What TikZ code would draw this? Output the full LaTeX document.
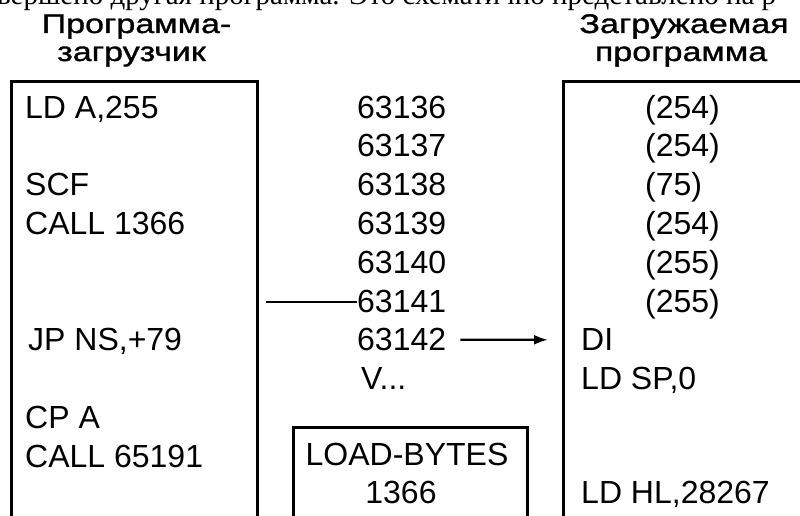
\documentclass[tikz,border=0pt]{standalone}
\usepackage{fontspec}
\setmainfont{Liberation Sans}
\newfontfamily\headfont[FakeStretch=1.26, FakeBold=1.2]{Liberation Sans}
\newfontfamily\pagefont{Liberation Serif}
\usetikzlibrary{arrows.meta, positioning}
\tikzset{%
   % listing lines: anchored on their baseline so rows line up
   code/.style={
      font=\fontsize{32}{38}\selectfont,
      inner sep=0pt,
      anchor=base west
   },
   head/.style={
      font=\headfont\fontsize{27}{30}\selectfont,
      inner sep=0pt,
      anchor=base
   },
   frame/.style={
      line width=3pt
   },
   wire/.style={
      line width=2.4pt
   },
}
\begin{document}
\begin{tikzpicture}[x=1pt, y=-1pt]
\useasboundingbox (0,0) rectangle (800,516);
\clip (0,0) rectangle (800,516);
% tail of the page text above the figure
\node[anchor=base west, inner sep=0pt, font=\pagefont\fontsize{29}{30}\selectfont]
   (pagetext) at (-3,5) {вершено другая программа. Это схематично представлено на р};
% headings
\node[head] (lhead) at (136.5,33) {Программа-};
\node[head] (lhead2) at (131.5,61) {загрузчик};
\node[head] (rhead) at (684,33) {Загружаемая};
\node[head] (rhead2) at (681,61) {программа};
% frames, cut off by the lower edge
\draw[frame] (11,520) |- (257,82) -- (257,520);
\draw[frame] (563,520) |- (806,82);
\draw[frame] (293,520) |- (527,427) -- (527,520);
% loader
\node[code] (l0) at (25,118) {LD A,255};
\node[code] (l2) at (25,195.6) {SCF};
\node[code] (l3) at (25,234.4) {CALL 1366};
\node[code] (l6) at (28,350.8) {JP NS,+79};
\node[code] (l8) at (25,428.4) {CP A};
\node[code] (l9) at (25,467.2) {CALL 65191};
% addresses
\foreach \addr [count=\k from 0] in {63136,63137,63138,63139,63140,63141,63142}
   \node[code] (a\k) at (357,{118+38.8*\k}) {\addr};
\node[code] (a7) at (361,389.6) {V...};
% loaded bytes
\foreach \val [count=\k from 0] in {{(254)},{(254)},{(75)},{(254)},{(255)},{(255)}}
   \node[code] (b\k) at (645,{118+38.8*\k}) {\val};
\node[code] (di) at (581,350.8) {DI};
\node[code] (ldsp) at (581,389.6) {LD SP,0};
\node[code] (ldhl) at (581,503) {LD HL,28267};
% ROM routine
\node[code, anchor=base] (lb) at (407,465) {LOAD-BYTES};
\node[code, anchor=base] (lbaddr) at (401,503) {1366};
% connectors
\coordinate (from) at (266,302);
\draw[wire] (from) -- (from -| a5.west);
\draw[wire, -{Latex[length=14pt, width=10pt]}, shorten <=14pt, shorten >=33pt]
   (a6.east) -- (di.west);
\end{tikzpicture}
\end{document}
